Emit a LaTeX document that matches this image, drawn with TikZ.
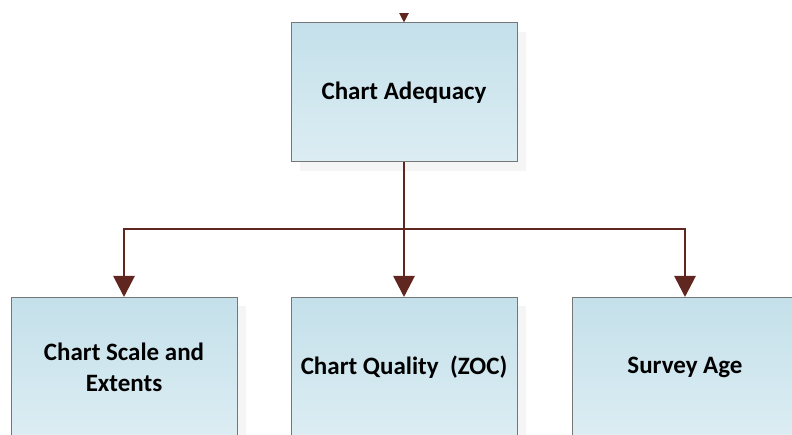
\documentclass[tikz,border=0pt]{standalone}
\usepackage{fontspec}
\setmainfont{Carlito}
\usetikzlibrary{arrows.meta,shadows}
\definecolor{boxline}{RGB}{118,118,118}
\definecolor{boxtop}{RGB}{196,224,234}
\definecolor{boxbottom}{RGB}{220,237,243}
\definecolor{linkbrown}{RGB}{96,38,32}
\begin{document}
\begin{tikzpicture}[
    x=1pt, y=-1pt,
    >={Triangle[length=21pt,width=21pt]},
    chartbox/.style={rectangle, draw=boxline, line width=1pt,
      top color=boxtop, bottom color=boxbottom,
      minimum width=226pt, minimum height=139pt, inner sep=4pt,
      align=center, font=\bfseries\fontsize{25}{31}\selectfont,
      drop shadow={shadow xshift=9pt, shadow yshift=-9pt, opacity=0.2, fill=boxline!35}},
    link/.style={draw=linkbrown, line width=2.8pt}
]
  \useasboundingbox (0,0) rectangle (792,435);
  \clip (0,0) rectangle (792,435);
  % nodes
  \node[chartbox] (adequacy) at (404,92.5) {Chart Adequacy};
  \node[chartbox] (scale)    at (124,367)  {Chart Scale and\\Extents};
  \node[chartbox] (quality)  at (404,367)  {Chart Quality~~(ZOC)};
  \node[chartbox] (age)      at (685,367)  {Survey Age};
  \coordinate (feed)  at (404,-30);
  \coordinate (split) at (404,229);

  % edges
  \begin{scope}
    \clip (0,14) rectangle (792,60);
    \draw[link,->] (feed) -- (adequacy);
  \end{scope}
  \draw[link,->] (adequacy) -- (quality);
  \draw[link,->] (split) -| (scale);
  \draw[link,->] (split) -| (age);
\end{tikzpicture}
\end{document}
